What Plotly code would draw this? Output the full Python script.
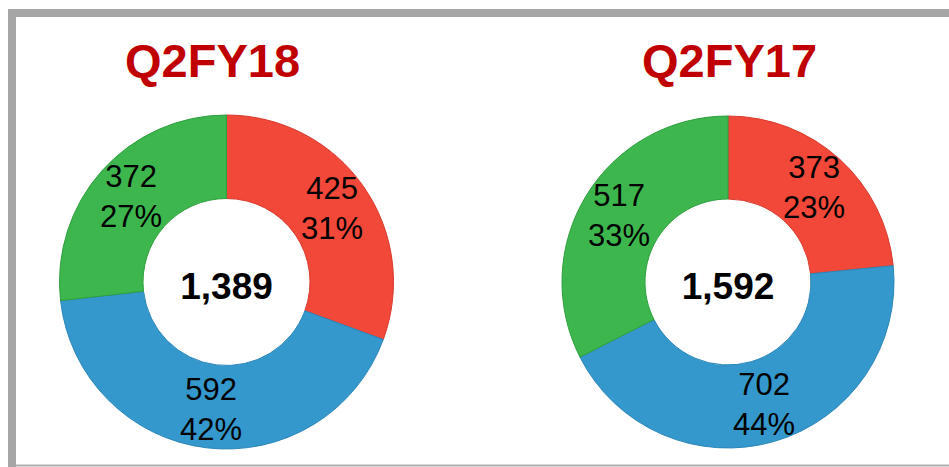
import math
import plotly.graph_objects as go

# ---- data ----
segments = ["Segment A", "Segment B", "Segment C"]
q2fy18_values = [425, 592, 372]
q2fy18_pct_labels = ["31%", "42%", "27%"]
q2fy17_values = [373, 702, 517]
q2fy17_pct_labels = ["23%", "44%", "33%"]
period_titles = ["Q2FY18", "Q2FY17"]
totals = ["1,389", "1,592"]

colors = ["#F14839", "#3598CD", "#3DB74D"]
edge_colors = ["#D83A2E", "#2A86B8", "#2E9E3E"]

W, H = 949, 467
HOLE = 0.5
FONT = "Liberation Sans, Arial, sans-serif"


def px_x(x):
    return x / W


def px_y(y):
    return 1 - y / H


def domain(cx, cy, r):
    return dict(x=[px_x(cx - r), px_x(cx + r)], y=[px_y(cy + r), px_y(cy - r)])


def make_pie(values, total, dom):
    return go.Pie(
        labels=segments,
        values=values,
        textinfo="none",
        hole=HOLE,
        sort=False,
        direction="clockwise",
        rotation=0,
        marker=dict(colors=colors, line=dict(color=edge_colors, width=1)),
        domain=dom,
        title=dict(text=f"<b>{total}</b>", position="middle center",
                   font=dict(family=FONT, size=37, color="#000000")),
        showlegend=False,
        hoverinfo="label+value",
    )


def slice_labels(values, pcts, cx, cy, r):
    """Labels at each slice's mid-angle, halfway across the ring."""
    total = sum(values)
    cum = 0.0
    anns = []
    rr = r * (1 + HOLE) / 2 + 3
    for v, p in zip(values, pcts):
        mid = (cum + v / 2) / total
        cum += v
        ang = 2 * math.pi * mid  # clockwise from 12 o'clock
        x = cx + rr * math.sin(ang)
        y = cy - rr * math.cos(ang)
        anns.append(dict(
            text=f"{v}<br>{p}", x=px_x(x), y=px_y(y), xref="paper", yref="paper",
            xanchor="center", yanchor="middle", showarrow=False,
            font=dict(family=FONT, size=31, color="#000000"),
        ))
    return anns


pies = [
    (q2fy18_values, q2fy18_pct_labels, totals[0], 226.5, 282, 167),
    (q2fy17_values, q2fy17_pct_labels, totals[1], 728, 282, 166),
]

fig = go.Figure()
annotations = []
for vals, pcts, tot, cx, cy, r in pies:
    fig.add_trace(make_pie(vals, tot, domain(cx, cy, r)))
    annotations += slice_labels(vals, pcts, cx, cy, r)

for title, cx in zip(period_titles, [212, 729]):
    annotations.append(dict(
        text=f"<b>{title}</b>", x=px_x(cx), y=px_y(61), xref="paper", yref="paper",
        xanchor="center", yanchor="middle", showarrow=False,
        font=dict(family=FONT, size=47, color="#C00000"),
    ))

frame_color = "#A6A6A6"
shapes = [
    dict(type="rect", xref="paper", yref="paper", x0=px_x(8), x1=1.0, y0=px_y(17), y1=px_y(9),
         fillcolor=frame_color, line=dict(width=0), layer="above"),
    dict(type="rect", xref="paper", yref="paper", x0=px_x(8), x1=px_x(16), y0=px_y(467), y1=px_y(9),
         fillcolor=frame_color, line=dict(width=0), layer="above"),
    dict(type="line", xref="paper", yref="paper", x0=px_x(16), x1=1.0, y0=px_y(465.5), y1=px_y(465.5),
         line=dict(color="#B0B0B0", width=2), layer="above"),
]

fig.update_layout(
    width=W, height=H,
    margin=dict(l=0, r=0, t=0, b=0),
    paper_bgcolor="#FFFFFF",
    plot_bgcolor="#FFFFFF",
    annotations=annotations,
    shapes=shapes,
)

fig.write_html("out.html", config={"displayModeBar": False},
               post_script="document.body.style.margin='0';")
